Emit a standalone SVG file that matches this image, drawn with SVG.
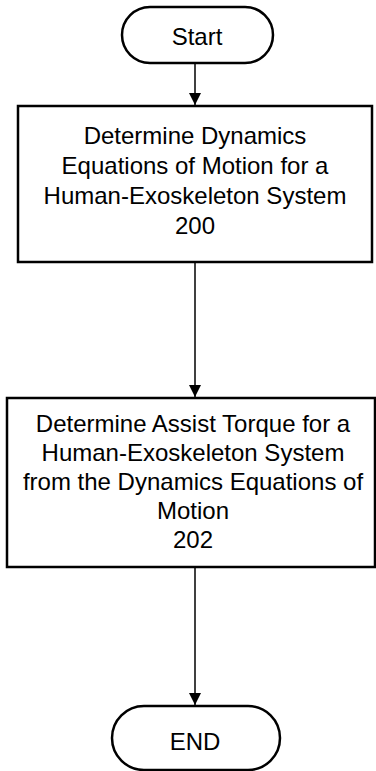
<svg xmlns="http://www.w3.org/2000/svg" width="376" height="771" viewBox="0 0 376 771">
<style>
.s{fill:#fff;stroke:#000;stroke-width:2.5}
.t{font-family:"Liberation Sans",Arial,sans-serif;font-size:24px;fill:#000;text-anchor:middle}
.c{stroke:#000;stroke-width:1.5;fill:none}
</style>
<defs>
<marker id="ah" markerWidth="12" markerHeight="16" refX="12" refY="8" orient="auto" markerUnits="userSpaceOnUse">
<path d="M0,2 L12,8 L0,14 Z" fill="#000"/>
</marker>
</defs>
<rect width="376" height="771" fill="#fff"/>
<g id="connectors">
<line class="c" x1="195" y1="63" x2="195" y2="105" marker-end="url(#ah)"/>
<line class="c" x1="195" y1="262" x2="195" y2="397" marker-end="url(#ah)"/>
<line class="c" x1="195" y1="567" x2="195" y2="705" marker-end="url(#ah)"/>
</g>
<g id="start">
<rect class="s" x="122" y="7" width="151" height="56" rx="28"/>
<text class="t" x="197" y="45">Start</text>
</g>
<g id="n200">
<rect class="s" x="18" y="106" width="354" height="156"/>
<text class="t" x="195" y="144">Determine Dynamics</text>
<text class="t" x="195" y="174">Equations of Motion for a</text>
<text class="t" x="195" y="204">Human-Exoskeleton System</text>
<text class="t" x="195" y="234">200</text>
</g>
<g id="n202">
<rect class="s" x="7" y="398" width="368" height="169"/>
<text class="t" x="193" y="432">Determine Assist Torque for a</text>
<text class="t" x="193" y="461">Human-Exoskeleton System</text>
<text class="t" x="193" y="490">from the Dynamics Equations of</text>
<text class="t" x="193" y="519">Motion</text>
<text class="t" x="193" y="548">202</text>
</g>
<g id="end">
<rect class="s" x="112" y="706" width="168" height="64" rx="32"/>
<text class="t" x="195" y="750">END</text>
</g>
</svg>
